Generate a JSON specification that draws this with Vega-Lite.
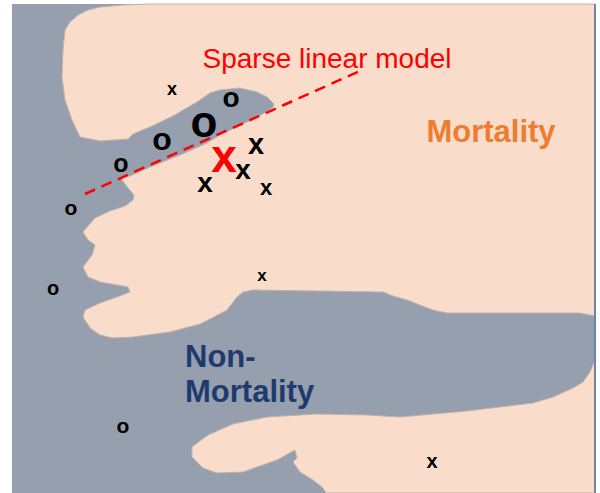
{
  "$schema": "https://vega.github.io/schema/vega-lite/v6.json",
  "width": 583,
  "height": 489,
  "autosize": {"type": "none"},
  "padding": {"left": 12, "top": 4, "right": 5, "bottom": 0},
  "background": "white",
  "view": {"fill": "#959fae", "stroke": null},
  "datasets": {
    "regions": [
      {"region": "upper", "i": 0, "x": 147, "y": 4},
      {"region": "upper", "i": 1, "x": 595, "y": 4},
      {"region": "upper", "i": 2, "x": 595, "y": 316},
      {"region": "upper", "i": 3, "x": 580, "y": 313},
      {"region": "upper", "i": 4, "x": 447, "y": 313},
      {"region": "upper", "i": 5, "x": 433, "y": 310},
      {"region": "upper", "i": 6, "x": 407, "y": 300},
      {"region": "upper", "i": 7, "x": 393, "y": 296},
      {"region": "upper", "i": 8, "x": 383, "y": 292},
      {"region": "upper", "i": 9, "x": 253, "y": 290},
      {"region": "upper", "i": 10, "x": 243, "y": 292},
      {"region": "upper", "i": 11, "x": 237, "y": 297},
      {"region": "upper", "i": 12, "x": 227, "y": 310},
      {"region": "upper", "i": 13, "x": 212, "y": 318},
      {"region": "upper", "i": 14, "x": 200, "y": 324},
      {"region": "upper", "i": 15, "x": 170, "y": 332},
      {"region": "upper", "i": 16, "x": 133, "y": 337},
      {"region": "upper", "i": 17, "x": 113, "y": 338},
      {"region": "upper", "i": 18, "x": 100, "y": 335},
      {"region": "upper", "i": 19, "x": 90, "y": 328},
      {"region": "upper", "i": 20, "x": 83, "y": 317},
      {"region": "upper", "i": 21, "x": 85, "y": 310},
      {"region": "upper", "i": 22, "x": 100, "y": 303},
      {"region": "upper", "i": 23, "x": 117, "y": 297},
      {"region": "upper", "i": 24, "x": 130, "y": 292},
      {"region": "upper", "i": 25, "x": 128, "y": 287},
      {"region": "upper", "i": 26, "x": 117, "y": 285},
      {"region": "upper", "i": 27, "x": 100, "y": 282},
      {"region": "upper", "i": 28, "x": 88, "y": 277},
      {"region": "upper", "i": 29, "x": 83, "y": 267},
      {"region": "upper", "i": 30, "x": 92, "y": 255},
      {"region": "upper", "i": 31, "x": 95, "y": 245},
      {"region": "upper", "i": 32, "x": 88, "y": 240},
      {"region": "upper", "i": 33, "x": 83, "y": 232},
      {"region": "upper", "i": 34, "x": 87, "y": 227},
      {"region": "upper", "i": 35, "x": 95, "y": 218},
      {"region": "upper", "i": 36, "x": 110, "y": 211},
      {"region": "upper", "i": 37, "x": 125, "y": 206},
      {"region": "upper", "i": 38, "x": 133, "y": 200},
      {"region": "upper", "i": 39, "x": 134, "y": 195},
      {"region": "upper", "i": 40, "x": 128, "y": 188},
      {"region": "upper", "i": 41, "x": 122, "y": 180},
      {"region": "upper", "i": 42, "x": 123, "y": 177},
      {"region": "upper", "i": 43, "x": 130, "y": 176},
      {"region": "upper", "i": 44, "x": 143, "y": 170},
      {"region": "upper", "i": 45, "x": 160, "y": 163},
      {"region": "upper", "i": 46, "x": 180, "y": 155},
      {"region": "upper", "i": 47, "x": 207, "y": 143},
      {"region": "upper", "i": 48, "x": 220, "y": 135},
      {"region": "upper", "i": 49, "x": 247, "y": 122},
      {"region": "upper", "i": 50, "x": 257, "y": 117},
      {"region": "upper", "i": 51, "x": 268, "y": 111},
      {"region": "upper", "i": 52, "x": 273, "y": 107},
      {"region": "upper", "i": 53, "x": 274, "y": 104},
      {"region": "upper", "i": 54, "x": 267, "y": 97},
      {"region": "upper", "i": 55, "x": 257, "y": 92},
      {"region": "upper", "i": 56, "x": 240, "y": 88},
      {"region": "upper", "i": 57, "x": 220, "y": 90},
      {"region": "upper", "i": 58, "x": 210, "y": 93},
      {"region": "upper", "i": 59, "x": 197, "y": 102},
      {"region": "upper", "i": 60, "x": 173, "y": 116},
      {"region": "upper", "i": 61, "x": 150, "y": 127},
      {"region": "upper", "i": 62, "x": 140, "y": 131},
      {"region": "upper", "i": 63, "x": 133, "y": 134},
      {"region": "upper", "i": 64, "x": 128, "y": 139},
      {"region": "upper", "i": 65, "x": 100, "y": 141},
      {"region": "upper", "i": 66, "x": 80, "y": 137},
      {"region": "upper", "i": 67, "x": 72, "y": 120},
      {"region": "upper", "i": 68, "x": 65, "y": 100},
      {"region": "upper", "i": 69, "x": 62, "y": 77},
      {"region": "upper", "i": 70, "x": 63, "y": 50},
      {"region": "upper", "i": 71, "x": 65, "y": 30},
      {"region": "upper", "i": 72, "x": 70, "y": 22},
      {"region": "upper", "i": 73, "x": 78, "y": 15},
      {"region": "upper", "i": 74, "x": 88, "y": 10},
      {"region": "upper", "i": 75, "x": 100, "y": 7},
      {"region": "upper", "i": 76, "x": 123, "y": 5},
      {"region": "upper", "i": 77, "x": 147, "y": 4},
      {"region": "lower", "i": 0, "x": 595, "y": 360},
      {"region": "lower", "i": 1, "x": 595, "y": 493},
      {"region": "lower", "i": 2, "x": 326, "y": 493},
      {"region": "lower", "i": 3, "x": 323, "y": 488},
      {"region": "lower", "i": 4, "x": 313, "y": 480},
      {"region": "lower", "i": 5, "x": 300, "y": 472},
      {"region": "lower", "i": 6, "x": 293, "y": 462},
      {"region": "lower", "i": 7, "x": 297, "y": 458},
      {"region": "lower", "i": 8, "x": 295, "y": 450},
      {"region": "lower", "i": 9, "x": 277, "y": 460},
      {"region": "lower", "i": 10, "x": 243, "y": 472},
      {"region": "lower", "i": 11, "x": 217, "y": 473},
      {"region": "lower", "i": 12, "x": 203, "y": 468},
      {"region": "lower", "i": 13, "x": 192, "y": 457},
      {"region": "lower", "i": 14, "x": 192, "y": 447},
      {"region": "lower", "i": 15, "x": 208, "y": 435},
      {"region": "lower", "i": 16, "x": 233, "y": 424},
      {"region": "lower", "i": 17, "x": 267, "y": 417},
      {"region": "lower", "i": 18, "x": 317, "y": 414},
      {"region": "lower", "i": 19, "x": 367, "y": 415},
      {"region": "lower", "i": 20, "x": 400, "y": 417},
      {"region": "lower", "i": 21, "x": 467, "y": 411},
      {"region": "lower", "i": 22, "x": 533, "y": 403},
      {"region": "lower", "i": 23, "x": 553, "y": 397},
      {"region": "lower", "i": 24, "x": 573, "y": 388},
      {"region": "lower", "i": 25, "x": 583, "y": 382},
      {"region": "lower", "i": 26, "x": 590, "y": 372},
      {"region": "lower", "i": 27, "x": 595, "y": 360}
    ],
    "model": [
      {"x": 85, "y": 194},
      {"x": 362, "y": 70}
    ],
    "points": [
      {"class": "o", "role": "neighbor", "x": 231, "y": 99, "weight": 0.56},
      {"class": "o", "role": "neighbor", "x": 162, "y": 140, "weight": 0.64},
      {"class": "o", "role": "neighbor", "x": 121, "y": 164, "weight": 0.5},
      {"class": "o", "role": "neighbor", "x": 71, "y": 209, "weight": 0.42},
      {"class": "o", "role": "neighbor", "x": 53, "y": 289, "weight": 0.4},
      {"class": "o", "role": "neighbor", "x": 123, "y": 427, "weight": 0.42},
      {"class": "o", "role": "neighbor", "x": 204, "y": 124, "weight": 0.88},
      {"class": "x", "role": "neighbor", "x": 172, "y": 90, "weight": 0.36},
      {"class": "x", "role": "neighbor", "x": 256, "y": 145, "weight": 0.58},
      {"class": "x", "role": "neighbor", "x": 243, "y": 171, "weight": 0.56},
      {"class": "x", "role": "neighbor", "x": 205, "y": 184, "weight": 0.56},
      {"class": "x", "role": "neighbor", "x": 266, "y": 188, "weight": 0.44},
      {"class": "x", "role": "neighbor", "x": 262, "y": 276, "weight": 0.34},
      {"class": "x", "role": "neighbor", "x": 432, "y": 462, "weight": 0.4},
      {"class": "x", "role": "explained", "x": 224, "y": 158, "weight": 0.92}
    ]
  },
  "layer": [
    {
      "data": {"name": "regions"},
      "mark": {"type": "line", "fill": "#f9dcca", "stroke": "#c2b2aa", "strokeWidth": 1, "interpolate": "linear"},
      "encoding": {
        "x": {"field": "x", "type": "quantitative", "axis": null, "scale": {"domain": [12, 595], "nice": false, "zero": false}},
        "y": {"field": "y", "type": "quantitative", "axis": null, "scale": {"domain": [4, 493], "reverse": true, "nice": false, "zero": false}},
        "detail": {"field": "region", "type": "nominal"},
        "order": {"field": "i", "type": "quantitative"}
      }
    },
    {
      "data": {"name": "model"},
      "mark": {"type": "line", "color": "#ff0000", "strokeWidth": 2.5, "strokeDash": [11, 7]},
      "encoding": {
        "x": {"field": "x", "type": "quantitative", "axis": null, "scale": {"domain": [12, 595], "nice": false, "zero": false}},
        "y": {"field": "y", "type": "quantitative", "axis": null, "scale": {"domain": [4, 493], "reverse": true, "nice": false, "zero": false}}
      }
    },
    {
      "data": {"name": "points"},
      "mark": {"type": "text", "font": "Liberation Sans", "fontWeight": "bold", "align": "center", "baseline": "middle"},
      "encoding": {
        "x": {"field": "x", "type": "quantitative", "axis": null, "scale": {"domain": [12, 595], "nice": false, "zero": false}},
        "y": {"field": "y", "type": "quantitative", "axis": null, "scale": {"domain": [4, 493], "reverse": true, "nice": false, "zero": false}},
        "text": {"field": "class", "type": "nominal"},
        "size": {"field": "weight", "type": "quantitative", "scale": {"domain": [0, 1], "range": [0, 50]}, "legend": null},
        "color": {"field": "role", "type": "nominal", "scale": {"domain": ["neighbor", "explained"], "range": ["#000000", "#ff0000"]}, "legend": null}
      }
    },
    {
      "data": {"values": [{"label": "Sparse linear model", "x": 327, "y": 68}]},
      "mark": {"type": "text", "font": "Liberation Sans", "fontSize": 28, "color": "#ff0000", "align": "center", "baseline": "alphabetic"},
      "encoding": {
        "x": {"field": "x", "type": "quantitative", "axis": null, "scale": {"domain": [12, 595], "nice": false, "zero": false}},
        "y": {"field": "y", "type": "quantitative", "axis": null, "scale": {"domain": [4, 493], "reverse": true, "nice": false, "zero": false}},
        "text": {"field": "label", "type": "nominal"}
      }
    },
    {
      "data": {"values": [{"label": "Mortality", "x": 491, "y": 142}]},
      "mark": {"type": "text", "font": "Liberation Sans", "fontWeight": "bold", "fontSize": 31, "color": "#ed7d31", "align": "center", "baseline": "alphabetic"},
      "encoding": {
        "x": {"field": "x", "type": "quantitative", "axis": null, "scale": {"domain": [12, 595], "nice": false, "zero": false}},
        "y": {"field": "y", "type": "quantitative", "axis": null, "scale": {"domain": [4, 493], "reverse": true, "nice": false, "zero": false}},
        "text": {"field": "label", "type": "nominal"}
      }
    },
    {
      "data": {"values": [{"label": "Non-\nMortality", "x": 185, "y": 367}]},
      "mark": {"type": "text", "font": "Liberation Sans", "fontWeight": "bold", "fontSize": 31, "color": "#1f3b6e", "align": "left", "baseline": "alphabetic", "lineBreak": "\n", "lineHeight": 35},
      "encoding": {
        "x": {"field": "x", "type": "quantitative", "axis": null, "scale": {"domain": [12, 595], "nice": false, "zero": false}},
        "y": {"field": "y", "type": "quantitative", "axis": null, "scale": {"domain": [4, 493], "reverse": true, "nice": false, "zero": false}},
        "text": {"field": "label", "type": "nominal"}
      }
    },
    {
      "data": {"values": [{"x": 595, "y": 4, "y2": 493}]},
      "mark": {"type": "rule", "color": "#6a84aa", "strokeWidth": 2},
      "encoding": {
        "x": {"field": "x", "type": "quantitative", "axis": null, "scale": {"domain": [12, 595], "nice": false, "zero": false}},
        "y": {"field": "y", "type": "quantitative", "axis": null, "scale": {"domain": [4, 493], "reverse": true, "nice": false, "zero": false}},
        "y2": {"field": "y2"}
      }
    }
  ]
}
